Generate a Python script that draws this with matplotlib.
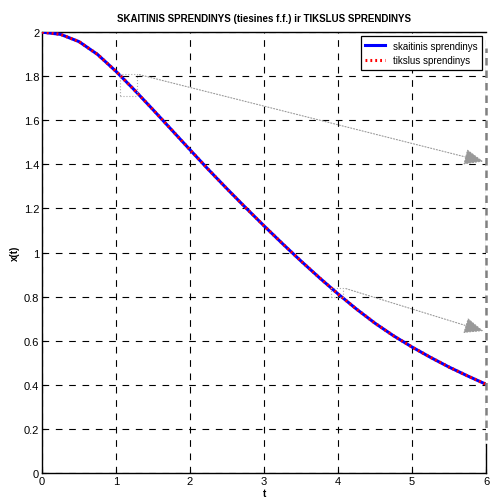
import numpy as np
import matplotlib

matplotlib.use("Agg")
import matplotlib.pyplot as plt
from matplotlib.patches import Rectangle

plt.rcParams['font.family'] = ['Liberation Sans', 'DejaVu Sans']

# solution values x(t) at the sampled times
t = [0, 0.25, 0.5, 0.75, 1.0, 1.25, 1.5, 1.75, 2.0, 2.25, 2.5, 2.75, 3.0,
     3.25, 3.5, 3.75, 4.0, 4.25, 4.5, 4.75, 5.0, 5.25, 5.5, 5.75, 6.0]
x_num = [2.0, 1.99, 1.957, 1.899, 1.822, 1.737, 1.648, 1.557, 1.466, 1.376,
         1.289, 1.204, 1.121, 1.040, 0.961, 0.885, 0.812, 0.743, 0.679,
         0.622, 0.571, 0.524, 0.480, 0.440, 0.402]
x_exact = [2.0, 1.99, 1.957, 1.899, 1.822, 1.737, 1.648, 1.557, 1.466, 1.376,
           1.289, 1.204, 1.121, 1.040, 0.961, 0.885, 0.812, 0.743, 0.679,
           0.622, 0.571, 0.524, 0.480, 0.440, 0.402]

x_ticks = [0, 1, 2, 3, 4, 5, 6]
y_ticks = [0, 0.2, 0.4, 0.6, 0.8, 1, 1.2, 1.4, 1.6, 1.8, 2]
y_tick_labels = ['0', '0.2', '0.4', '0.6', '0.8', '1', '1.2', '1.4', '1.6', '1.8', '2']

# zoom boxes: (t0, t1, y0, y1) and where their pointer arrows end
boxes = [(1.05, 1.28, 1.71, 1.81), (3.90, 4.07, 0.80, 0.84)]
arrow_ends = [(6.0, 1.41), (6.0, 0.64)]

fig = plt.figure(figsize=(4.91, 5.02), dpi=100)
ax = fig.add_axes([0.0855, 0.056, 0.9045, 0.878])

ax.plot(t, x_num, color='blue', lw=2.2, label='skaitinis sprendinys', zorder=3)
ax.plot(t, x_exact, color='red', lw=2.2, ls=(0, (0.6, 1.0)), label='tikslus sprendinys', zorder=4)

ax.set_xlim(0, 6)
ax.set_ylim(0, 2)
ax.set_xticks(x_ticks)
ax.set_xticklabels([str(v) for v in x_ticks])
ax.set_yticks(y_ticks)
ax.set_yticklabels(y_tick_labels)
ax.tick_params(direction='in', length=3, width=0.8, labelsize=8, pad=2)
ax.grid(True, color='black', ls=(0, (6, 6)), lw=0.8)

for s in ax.spines.values():
    s.set_linewidth(1.0)
ax.spines['right'].set_visible(False)

ax.set_title('SKAITINIS SPRENDINYS (tiesines f.f.) ir TIKSLUS SPRENDINYS',
             fontsize=7, fontweight='bold', pad=8)
ax.set_xlabel('t', fontsize=7, fontweight='bold', labelpad=2)
ax.set_ylabel('x(t)', fontsize=7, fontweight='bold', labelpad=3)

leg = ax.legend(loc='upper right', fontsize=7, fancybox=False, framealpha=1,
                edgecolor='black', handlelength=2.0, borderpad=0.5,
                labelspacing=0.45, borderaxespad=0.4)
leg.get_frame().set_linewidth(0.9)

# right edge: grey dashed frame line, solid piece at the bottom
ax.plot([6, 6], [0.15, 1.93], color='grey', lw=1.8, ls=(0, (3, 2)),
        clip_on=False, zorder=5)
ax.plot([6, 6], [0, 0.13], color='black', lw=1.0, clip_on=False, zorder=5)

for (t0, t1, y0, y1), (tx, ty) in zip(boxes, arrow_ends):
    ax.add_patch(Rectangle((t0, y0), t1 - t0, y1 - y0, fill=False,
                           ec='#aaaaaa', lw=0.8, ls=':', zorder=5))
    ax.annotate('', xy=(tx, ty), xytext=(t1, y1),
                arrowprops=dict(arrowstyle='-|>,head_length=1.2,head_width=0.5',
                                color='#999999', lw=0.8, ls=':'),
                zorder=5, annotation_clip=False)

fig.savefig('out.png', dpi=100)
